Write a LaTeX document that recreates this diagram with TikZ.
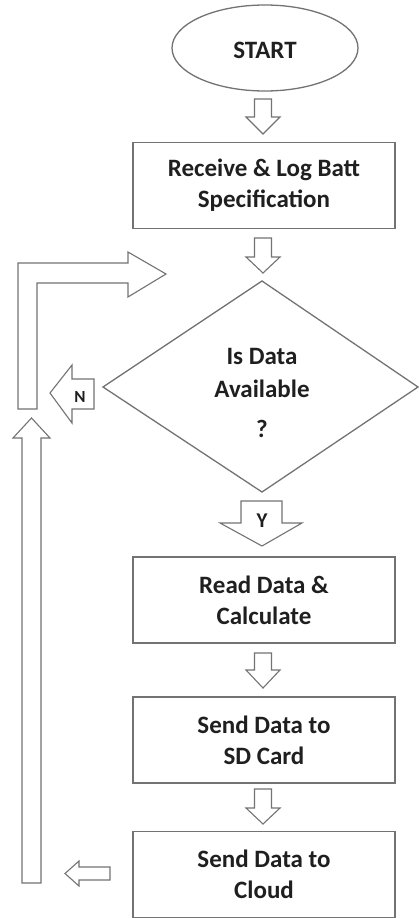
\documentclass[tikz,border=0pt]{standalone}
\usepackage{fontspec}
\setmainfont{Carlito}
\begin{document}
\begin{tikzpicture}[x=1pt,y=-1pt,
  shapeline/.style={draw=black!55,line width=1.3pt},
  blockarrow/.style={draw=black!55,line width=1.1pt,fill=white,line join=miter},
  lbl/.style={text=black!88,font=\fontsize{25}{31}\selectfont\bfseries,align=center,inner sep=0pt},
  stepbox/.style={shapeline,rectangle,minimum width=262pt,minimum height=86pt,inner sep=0pt}]
\useasboundingbox (0,0) rectangle (419,918);
\newcommand\blockdown[4]{% x, top, base, tip
  \draw[blockarrow] (#1-8.5,#2) -- (#1+8.5,#2) -- (#1+8.5,#3) -- (#1+17,#3) -- (#1,#4) -- (#1-17,#3) -- (#1-8.5,#3) -- cycle;}
% nodes
\draw[shapeline] (265,48) ellipse [x radius=93,y radius=43];
\node[lbl] (start) at (265,50) {START};
\node[stepbox,lbl] (spec) at (264,185.5) {Receive \& Log Batt\\Specification};
\draw[shapeline] (262,281) coordinate (dtop) -- (418,387) coordinate (dright) -- (262,492) coordinate (dbot) -- (103,387) coordinate (dleft) -- cycle;
\node[lbl] (q1) at (262,356) {Is Data};
\node[lbl] (q2) at (262,389) {Available};
\node[lbl] (q3) at (262,429) {?};
\node[stepbox,lbl] (read) at (264,600) {Read Data \&\\Calculate};
\node[stepbox,lbl] (sd) at (264,740) {Send Data to\\SD Card};
\node[stepbox,lbl] (cloud) at (264,874.5) {Send Data to\\Cloud};
% block arrows
\blockdown{263}{99}{117}{134}
\blockdown{263}{238}{257}{273}
\blockdown{263}{653}{670}{688}
\blockdown{263}{789}{808}{824}
% Y arrow
\draw[blockarrow] (241,501) -- (282,501) -- (282,523) -- (302,523) -- (262,546) -- (220,523) -- (241,523) -- cycle;
\node[lbl,font=\fontsize{21}{24}\selectfont\bfseries] (ylab) at (262,521) {Y};
% N arrow
\draw[blockarrow] (94,379) -- (72,379) -- (72,365) -- (50,393) -- (72,423) -- (72,409) -- (94,409) -- cycle;
\node[lbl,font=\fontsize{17}{20}\selectfont\bfseries] (nlab) at (80,397) {N};
% L return arrow
\draw[blockarrow] (18,409) -- (18,263) -- (128,263) -- (128,252) -- (166,274) -- (128,297) -- (128,283) -- (37,283) -- (37,409) -- cycle;
% up arrow
\draw[blockarrow] (22,883) -- (22,438) -- (13,438) -- (31.5,418) -- (50,438) -- (41,438) -- (41,883) -- cycle;
% left arrow from cloud
\draw[blockarrow] (110,867) -- (79,867) -- (79,861) -- (65,873.5) -- (79,886) -- (79,880) -- (110,880) -- cycle;
\end{tikzpicture}
\end{document}
